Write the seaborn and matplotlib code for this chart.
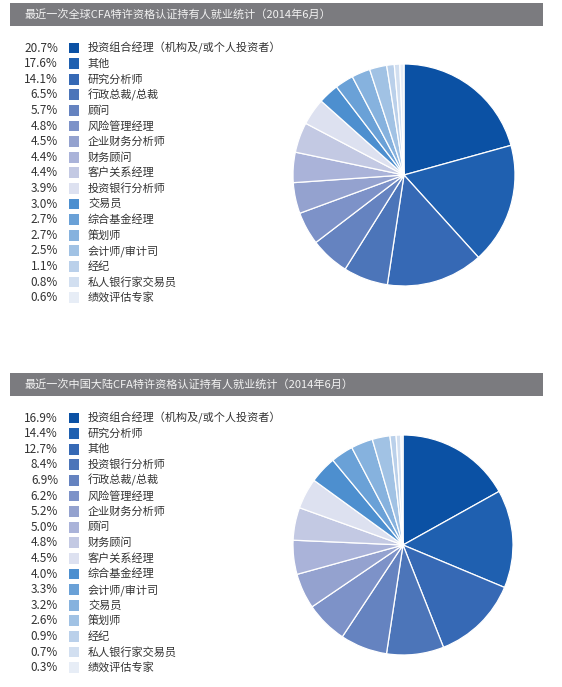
"""
CFA持证人就业统计 饼图复刻
"""
import matplotlib
matplotlib.use('Agg')
import matplotlib.pyplot as plt
import seaborn as sns

# 全球数据（2014年6月）
global_labels = [
    '投资组合经理（机构及/或个人投资者）', '其他', '研究分析师', '行政总裁/总裁', '顾问',
    '风险管理经理', '企业财务分析师', '财务顾问', '客户关系经理', '投资银行分析师',
    '交易员', '综合基金经理', '策划师', '会计师/审计司', '经纪', '私人银行家交易员', '绩效评估专家',
]
global_values = [20.7, 17.6, 14.1, 6.5, 5.7, 4.8, 4.5, 4.4, 4.4, 3.9, 3.0, 2.7, 2.7, 2.5, 1.1, 0.8, 0.6]

# 中国大陆数据（2014年6月）
china_labels = [
    '投资组合经理（机构及/或个人投资者）', '研究分析师', '其他', '投资银行分析师', '行政总裁/总裁',
    '风险管理经理', '企业财务分析师', '顾问', '财务顾问', '客户关系经理',
    '综合基金经理', '会计师/审计司', '交易员', '策划师', '经纪', '私人银行家交易员', '绩效评估专家',
]
china_values = [16.9, 14.4, 12.7, 8.4, 6.9, 6.2, 5.2, 5.0, 4.8, 4.5, 4.0, 3.3, 3.2, 2.6, 0.9, 0.7, 0.3]

titles = [
    '最近一次全球CFA特许资格认证持有人就业统计（2014年6月）',
    '最近一次中国大陆CFA特许资格认证持有人就业统计（2014年6月）',
]

# 两段色阶：深蓝->淡紫，中蓝->近白
colors = [
    '#0b51a4', '#1f60b0', '#3669b5', '#4c75b9', '#6583c0', '#7d92c8', '#94a2cf',
    '#aab3d9', '#c3c9e3', '#dde1f0',
    '#4d8fcf', '#6aa1d7', '#86b2de', '#a1c2e4', '#bad0ea', '#d2dff0', '#e7edf6',
]

sns.set_style('white')
plt.rcParams['font.family'] = ['Noto Sans CJK SC', 'DejaVu Sans']

W, H = 562, 687
fig = plt.figure(figsize=(W / 100, H / 100), dpi=100)
fig.patch.set_facecolor('white')


def px_axes(x0, y0, w, h):
    """按像素（左上角原点）创建坐标轴"""
    return fig.add_axes([x0 / W, 1 - (y0 + h) / H, w / W, h / H])


def draw_panel(title, labels, values, bar_top, row0, pie_cx, pie_cy, r):
    # 标题栏
    tax = px_axes(10, bar_top, 533, 23)
    tax.set_facecolor('#7b7b7f')
    tax.set_xticks([])
    tax.set_yticks([])
    for s in tax.spines.values():
        s.set_visible(False)
    tax.text(0.028, 0.5, title, color='#f2f2f2', fontsize=8, va='center', ha='left',
             transform=tax.transAxes)

    # 图例（数据坐标=像素）
    lax = px_axes(0, row0 - 12, 290, 280)
    lax.set_xlim(0, 290)
    lax.set_ylim(row0 - 12 + 280, row0 - 12)
    lax.axis('off')
    ys = [row0 + i * 15.6 for i in range(len(values))]
    lax.scatter([74] * len(values), ys, marker='s', s=62, c=colors[:len(values)], linewidths=0)
    for y, v, lab in zip(ys, values, labels):
        lax.text(58, y, f'{v:.1f}%', ha='right', va='center', fontsize=8.5, color='#333333')
        lax.text(88, y, lab, ha='left', va='center', fontsize=8, color='#333333')

    # 饼图
    pax = px_axes(pie_cx - r, pie_cy - r, 2 * r, 2 * r)
    pax.pie(values, colors=colors, startangle=90, counterclock=False,
            wedgeprops=dict(edgecolor='white', linewidth=0.9))
    pax.set_xlim(-1, 1)
    pax.set_ylim(-1, 1)
    pax.set_aspect('equal')


draw_panel(titles[0], global_labels, global_values, 3, 48, 404, 175, 111)
draw_panel(titles[1], china_labels, china_values, 373, 418, 403, 545, 110)

fig.savefig('out.png', dpi=100)
plt.close(fig)
